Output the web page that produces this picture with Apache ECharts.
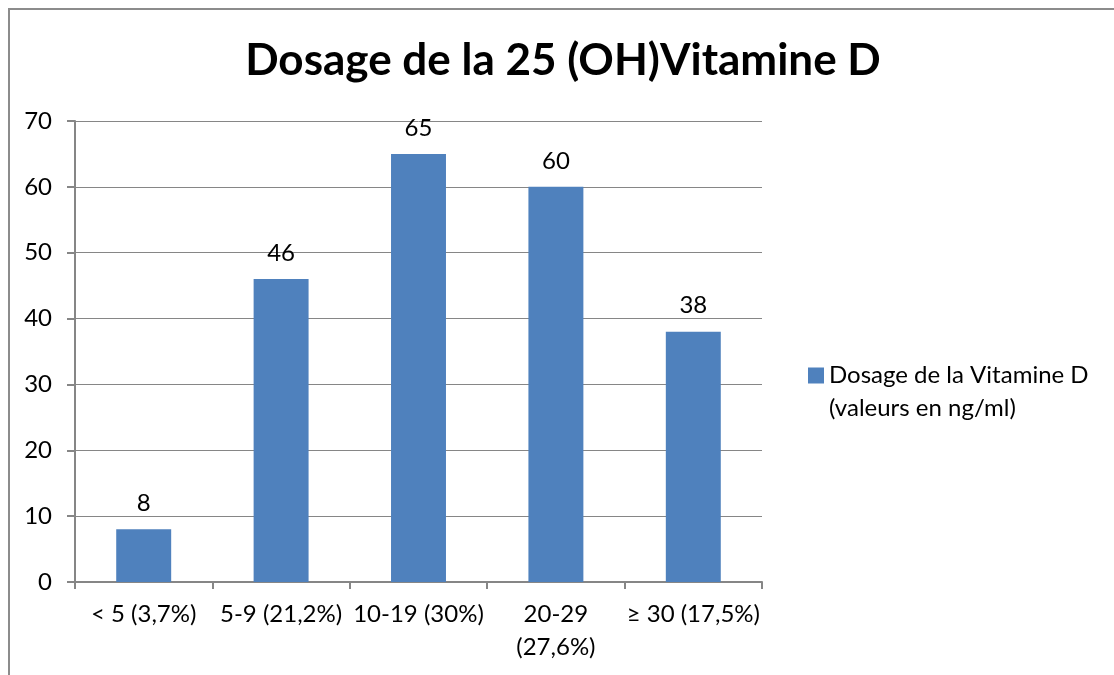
<!DOCTYPE html>
<html>
<head>
<meta charset="utf-8">
<script src="https://cdn.jsdelivr.net/npm/echarts@6/dist/echarts.min.js"></script>
<style>
  html, body { margin: 0; padding: 0; background: #fff; }
  #frame { position: absolute; left: 8px; top: 8px; width: 1106px; height: 667px;
           border-left: 2px solid #8c8c8c; border-top: 2px solid #8c8c8c; box-sizing: border-box; }
  #main { position: absolute; left: 0; top: 0; width: 1114px; height: 675px; }
</style>
</head>
<body>
<div id="frame"></div>
<div id="main"></div>
<script>
const titleText = 'Dosage de la 25 (OH)Vitamine D';
const seriesName = 'Dosage de la Vitamine D\n(valeurs en ng/ml)';
const categories = ['< 5 (3,7%)', '5-9 (21,2%)', '10-19 (30%)', '20-29\n(27,6%)', '≥ 30 (17,5%)'];
const values = [8, 46, 65, 60, 38];
const yTicks = [0, 10, 20, 30, 40, 50, 60, 70];

const font = 'Lato, "Open Sans", sans-serif';
const chart = echarts.init(document.getElementById('main'));

chart.setOption({
  animation: false,
  title: {
    text: titleText,
    left: 558,
    textAlign: 'center',
    top: 34,
    textStyle: { fontFamily: font, fontSize: 44, fontWeight: 'bold', color: '#000' }
  },
  legend: {
    left: 803,
    top: 354,
    orient: 'vertical',
    itemWidth: 16,
    itemHeight: 49,
    textStyle: { fontFamily: font, fontSize: 24, color: '#000', lineHeight: 33 },
    // square sits at the top of the icon box so it lines up with the first text line
    data: [{ name: seriesName, icon: 'path://M0,0H16V16H0Z M0,49' }]
  },
  grid: { left: 75, right: 352, top: 121, bottom: 93, containLabel: false },
  xAxis: {
    type: 'category',
    data: categories,
    axisLine: { lineStyle: { color: '#868686', width: 2 } },
    axisTick: { show: true, length: 7, lineStyle: { color: '#868686', width: 2 } },
    axisLabel: {
      fontFamily: font, fontSize: 24, color: '#000', margin: 16,
      lineHeight: 33, interval: 0
    }
  },
  yAxis: {
    type: 'value',
    min: yTicks[0],
    max: yTicks[yTicks.length - 1],
    interval: 10,
    axisLine: { show: true, lineStyle: { color: '#868686', width: 2 } },
    axisTick: { show: true, length: 8, lineStyle: { color: '#868686', width: 2 } },
    splitLine: { lineStyle: { color: '#868686', width: 1 } },
    axisLabel: { fontFamily: font, fontSize: 24, color: '#000', margin: 23 }
  },
  series: [{
    name: seriesName,
    type: 'bar',
    data: values,
    barCategoryGap: '60%',
    itemStyle: { color: '#4F81BD' },
    label: {
      show: true, position: 'top', distance: 14,
      fontFamily: font, fontSize: 24, color: '#000'
    }
  }]
});
</script>
</body>
</html>
